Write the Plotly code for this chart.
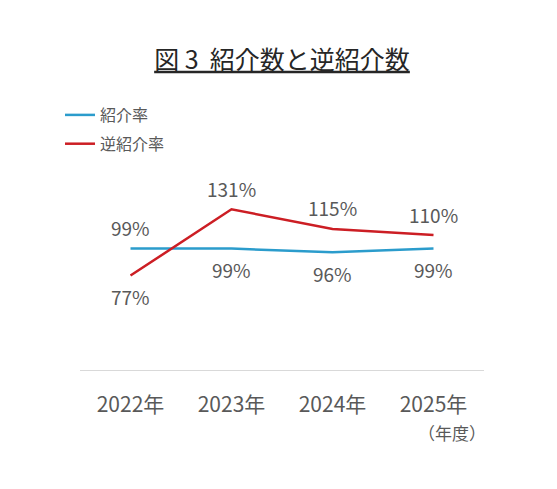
import plotly.graph_objects as go

years = ["2022年", "2023年", "2024年", "2025年"]
intro_rate = [99, 99, 96, 99]
reverse_rate = [77, 131, 115, 110]
intro_label_pos = ["above", "below", "below", "below"]
reverse_label_pos = ["below", "above", "above", "above"]

FONT = "Noto Sans CJK JP"
BLUE = "#2b9ccc"
RED = "#cc1e24"
GRAY = "#595959"

# page offset of the plot div (body margin)
OFF = 8
L, T, R, B = 80 - OFF, 186 - OFF, 557 + OFF - 484, 489 + OFF - 370
PW, PH = 557 - L - R, 489 - T - B

fig = go.Figure()
fig.add_trace(go.Scatter(x=years, y=intro_rate, mode="lines", name="紹介率",
                         line=dict(color=BLUE, width=2.5), legendgroup="a"))
fig.add_trace(go.Scatter(x=years, y=reverse_rate, mode="lines", name="逆紹介率",
                         line=dict(color=RED, width=2.5), legendgroup="b"))

annotations = []
for vals, poss in ((intro_rate, intro_label_pos), (reverse_rate, reverse_label_pos)):
    for x, v, p in zip(years, vals, poss):
        annotations.append(dict(x=x, y=v, xref="x", yref="y", text=f"{v}%",
                                showarrow=False, yshift=21 if p == "above" else -21,
                                font=dict(family=FONT, size=19, color=GRAY)))
annotations.append(dict(x=(452 - 80) / PW, y=-(432 - 370) / PH, xref="paper", yref="paper",
                        text="（年度）", showarrow=False, xanchor="center", yanchor="middle",
                        font=dict(family=FONT, size=17, color=GRAY)))

fig.update_layout(
    width=557, height=489,
    margin=dict(l=L, r=R, t=T, b=B),
    paper_bgcolor="white", plot_bgcolor="white",
    font=dict(family=FONT, color=GRAY),
    title=dict(text="<u>図 3  紹介数と逆紹介数</u>", x=(282 - OFF) / 557, xanchor="center",
               y=1 - (60 - OFF) / 489, yanchor="middle", yref="container", xref="container",
               font=dict(family=FONT, size=25, color="#262626", weight="normal")),
    showlegend=True,
    legend=dict(x=(60 - 80) / PW, y=1 + (186 - 98) / PH, xanchor="left", yanchor="top",
                font=dict(family=FONT, size=16, color=GRAY), tracegroupgap=5,
                traceorder="grouped", itemwidth=30, bgcolor="rgba(0,0,0,0)"),
    xaxis=dict(showline=True, linecolor="#d9d9d9", linewidth=1, showgrid=False,
               ticks="", tickfont=dict(family=FONT, size=21, color=GRAY),
               range=[-0.5, 3.5], fixedrange=True, ticklabelstandoff=16),
    yaxis=dict(range=[0, 150], visible=False, showgrid=False, zeroline=False),
    annotations=annotations,
)

fig.write_html("out.html")
